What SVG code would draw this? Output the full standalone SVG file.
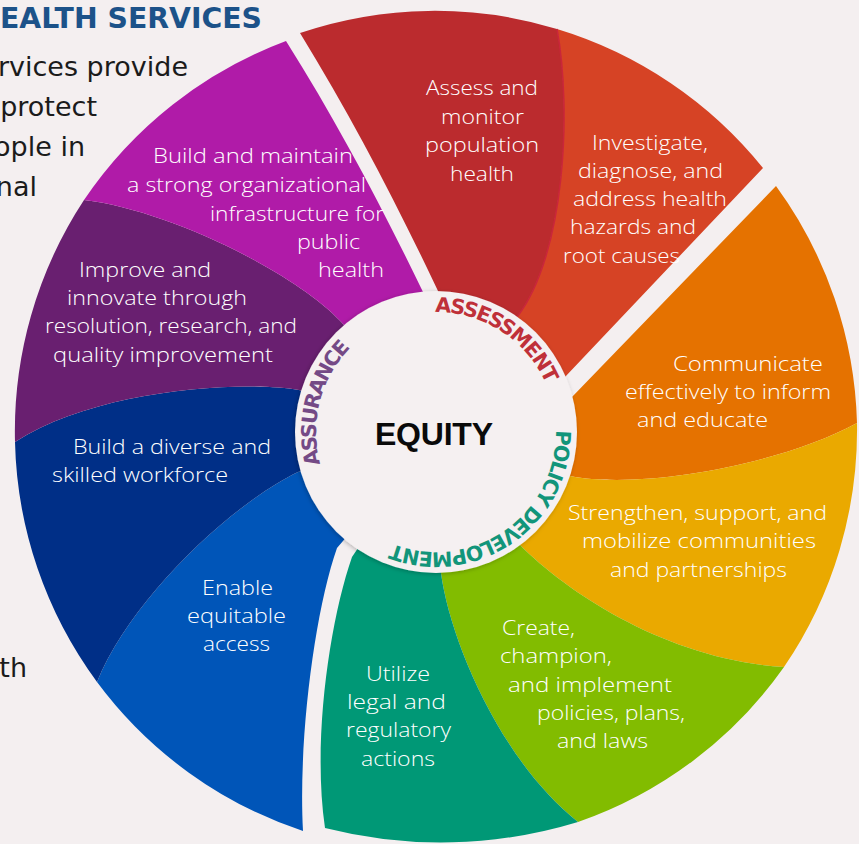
<svg xmlns="http://www.w3.org/2000/svg" xmlns:xlink="http://www.w3.org/1999/xlink" width="859" height="844" viewBox="0 0 859 844">
<style>
.lbl{font-family:"Open Sans","DejaVu Sans",sans-serif;font-weight:300;font-size:21px;fill:#ffffff}
.body{font-family:"DejaVu Sans","Open Sans",sans-serif;font-size:27px;fill:#1b1b1b;text-anchor:end}
.ring{font-family:"DejaVu Sans","Liberation Sans",sans-serif;font-weight:bold;font-size:20.5px;text-anchor:middle}
</style>
<defs>
<path id="ringPath" d="M436,552 A120,120 0 1 1 436,312 A120,120 0 1 1 436,552 A120,120 0 1 1 436,312 A120,120 0 1 1 436,552"/>
<filter id="sh" x="-10%" y="-10%" width="120%" height="120%">
<feDropShadow dx="-1" dy="1" stdDeviation="2" flood-color="#000" flood-opacity="0.25"/>
</filter>
</defs>
<rect x="0" y="0" width="859" height="844" fill="#f4eff0"/>
<g id="intro">
<text x="262" y="28" font-family="DejaVu Sans, sans-serif" font-weight="bold" font-size="28" fill="#1c5289" text-anchor="end" textLength="262" lengthAdjust="spacingAndGlyphs">EALTH SERVICES</text>
<text class="body" x="188" y="76">rvices provide</text>
<text class="body" x="97" y="116">protect</text>
<text class="body" x="85" y="156">ople in</text>
<text class="body" x="37" y="196">nal</text>
<text class="body" x="27" y="677">th</text>
</g>
<g id="seg1-assess">
<path d="M438,291 C396,202 351,116 300,33 A421,421 0 0 1 557,29 C572,110 565,255 517,317 L436,432 Z" fill="#bb2b2e"/>
<text class="lbl" x="426" y="95" textLength="112" lengthAdjust="spacingAndGlyphs">Assess and</text>
<text class="lbl" x="441" y="124" textLength="83" lengthAdjust="spacingAndGlyphs">monitor</text>
<text class="lbl" x="425" y="152" textLength="114" lengthAdjust="spacingAndGlyphs">population</text>
<text class="lbl" x="450" y="181" textLength="64" lengthAdjust="spacingAndGlyphs">health</text>
</g>
<g id="seg2-investigate">
<path d="M517,317 C565,255 572,110 557,29 A421,421 0 0 1 763,168 L565,377 L436,432 Z" fill="#d64325"/>
<path d="M517,317 C565,255 572,110 557,29" fill="none" stroke="#c9263a" stroke-width="1.5"/>
<text class="lbl" x="592" y="150" textLength="116" lengthAdjust="spacingAndGlyphs">Investigate,</text>
<text class="lbl" x="578" y="178" textLength="145" lengthAdjust="spacingAndGlyphs">diagnose, and</text>
<text class="lbl" x="573" y="206" textLength="154" lengthAdjust="spacingAndGlyphs">address health</text>
<text class="lbl" x="570" y="234" textLength="126" lengthAdjust="spacingAndGlyphs">hazards and</text>
<text class="lbl" x="563" y="263" textLength="117" lengthAdjust="spacingAndGlyphs">root causes</text>
</g>
<g id="seg3-communicate">
<path d="M572,397 L776,186 A421,421 0 0 1 857,423 C780,465 640,490 570,476 L436,432 Z" fill="#e57200"/>
<text class="lbl" x="673" y="371" textLength="150" lengthAdjust="spacingAndGlyphs">Communicate</text>
<text class="lbl" x="625" y="399" textLength="206" lengthAdjust="spacingAndGlyphs">effectively to inform</text>
<text class="lbl" x="637" y="427" textLength="131" lengthAdjust="spacingAndGlyphs">and educate</text>
</g>
<g id="seg4-strengthen">
<path d="M570,476 C640,490 780,465 857,423 A421,421 0 0 1 784,667 C670,660 570,595 520,545 L436,432 Z" fill="#eaa900"/>
<text class="lbl" x="568" y="520" textLength="259" lengthAdjust="spacingAndGlyphs">Strengthen, support, and</text>
<text class="lbl" x="582" y="548" textLength="234" lengthAdjust="spacingAndGlyphs">mobilize communities</text>
<text class="lbl" x="610" y="577" textLength="177" lengthAdjust="spacingAndGlyphs">and partnerships</text>
</g>
<g id="seg5-create">
<path d="M520,545 C570,595 670,660 784,667 A421,421 0 0 1 578,822 C500,760 450,640 441,573 L436,432 Z" fill="#82bc00"/>
<text class="lbl" x="502" y="635" textLength="73" lengthAdjust="spacingAndGlyphs">Create,</text>
<text class="lbl" x="500" y="663" textLength="112" lengthAdjust="spacingAndGlyphs">champion,</text>
<text class="lbl" x="508" y="692" textLength="164" lengthAdjust="spacingAndGlyphs">and implement</text>
<text class="lbl" x="537" y="720" textLength="148" lengthAdjust="spacingAndGlyphs">policies, plans,</text>
<text class="lbl" x="557" y="748" textLength="91" lengthAdjust="spacingAndGlyphs">and laws</text>
</g>
<g id="seg6-utilize">
<path d="M441,573 C450,640 500,760 578,822 A470,470 0 0 1 325,828 C312,740 330,620 352,557 L436,432 Z" fill="#009876"/>
<text class="lbl" x="366" y="681" textLength="64" lengthAdjust="spacingAndGlyphs">Utilize</text>
<text class="lbl" x="347" y="709" textLength="99" lengthAdjust="spacingAndGlyphs">legal and</text>
<text class="lbl" x="346" y="737" textLength="105" lengthAdjust="spacingAndGlyphs">regulatory</text>
<text class="lbl" x="361" y="766" textLength="74" lengthAdjust="spacingAndGlyphs">actions</text>
</g>
<g id="seg7-enable">
<path d="M337,548 C315,610 298,740 303,831 A421,421 0 0 1 97,682 C130,600 230,505 298,472 L436,432 Z" fill="#0055b8"/>
<text class="lbl" x="202" y="595" textLength="71" lengthAdjust="spacingAndGlyphs">Enable</text>
<text class="lbl" x="187" y="623" textLength="99" lengthAdjust="spacingAndGlyphs">equitable</text>
<text class="lbl" x="203" y="651" textLength="67" lengthAdjust="spacingAndGlyphs">access</text>
</g>
<g id="seg8-workforce">
<path d="M298,472 C230,505 130,600 97,682 A421,421 0 0 1 15,442 C95,390 240,380 299,390 L436,432 Z" fill="#002f87"/>
<text class="lbl" x="73" y="454" textLength="198" lengthAdjust="spacingAndGlyphs">Build a diverse and</text>
<text class="lbl" x="52" y="482" textLength="176" lengthAdjust="spacingAndGlyphs">skilled workforce</text>
</g>
<g id="seg9-improve">
<path d="M299,390 C240,380 95,390 15,442 A421,421 0 0 1 84,200 C170,210 300,275 344,325 L436,432 Z" fill="#691f70"/>
<text class="lbl" x="79" y="277" textLength="132" lengthAdjust="spacingAndGlyphs">Improve and</text>
<text class="lbl" x="67" y="305" textLength="180" lengthAdjust="spacingAndGlyphs">innovate through</text>
<text class="lbl" x="45" y="333" textLength="252" lengthAdjust="spacingAndGlyphs">resolution, research, and</text>
<text class="lbl" x="53" y="362" textLength="220" lengthAdjust="spacingAndGlyphs">quality improvement</text>
</g>
<g id="seg10-infrastructure">
<path d="M344,325 C300,275 170,210 84,200 A421,421 0 0 1 286,41 C337,122 381,205 423,292 L436,432 Z" fill="#b01ba8"/>
<text class="lbl" x="153" y="163" textLength="200" lengthAdjust="spacingAndGlyphs">Build and maintain</text>
<text class="lbl" x="127" y="192" textLength="239" lengthAdjust="spacingAndGlyphs">a strong organizational</text>
<text class="lbl" x="210" y="221" textLength="174" lengthAdjust="spacingAndGlyphs">infrastructure for</text>
<text class="lbl" x="297" y="249" textLength="63" lengthAdjust="spacingAndGlyphs">public</text>
<text class="lbl" x="318" y="277" textLength="66" lengthAdjust="spacingAndGlyphs">health</text>
</g>
<g id="center-equity">
<circle cx="436" cy="432" r="141" fill="#f5f0f1" filter="url(#sh)"/>
<text x="434" y="445" font-family="Liberation Sans, Arial, sans-serif" font-weight="bold" font-size="32" fill="#0a0a0a" text-anchor="middle" textLength="118">EQUITY</text>
</g>
<g id="ring-labels">
<text class="ring" fill="#744a86"><textPath xlink:href="#ringPath" href="#ringPath" startOffset="219" textLength="126">ASSURANCE</textPath></text>
<text class="ring" fill="#bf3039"><textPath xlink:href="#ringPath" href="#ringPath" startOffset="446" textLength="140">ASSESSMENT</textPath></text>
<text class="ring" fill="#12957a"><textPath xlink:href="#ringPath" href="#ringPath" startOffset="681" textLength="235">POLICY DEVELOPMENT</textPath></text>
</g>
</svg>
